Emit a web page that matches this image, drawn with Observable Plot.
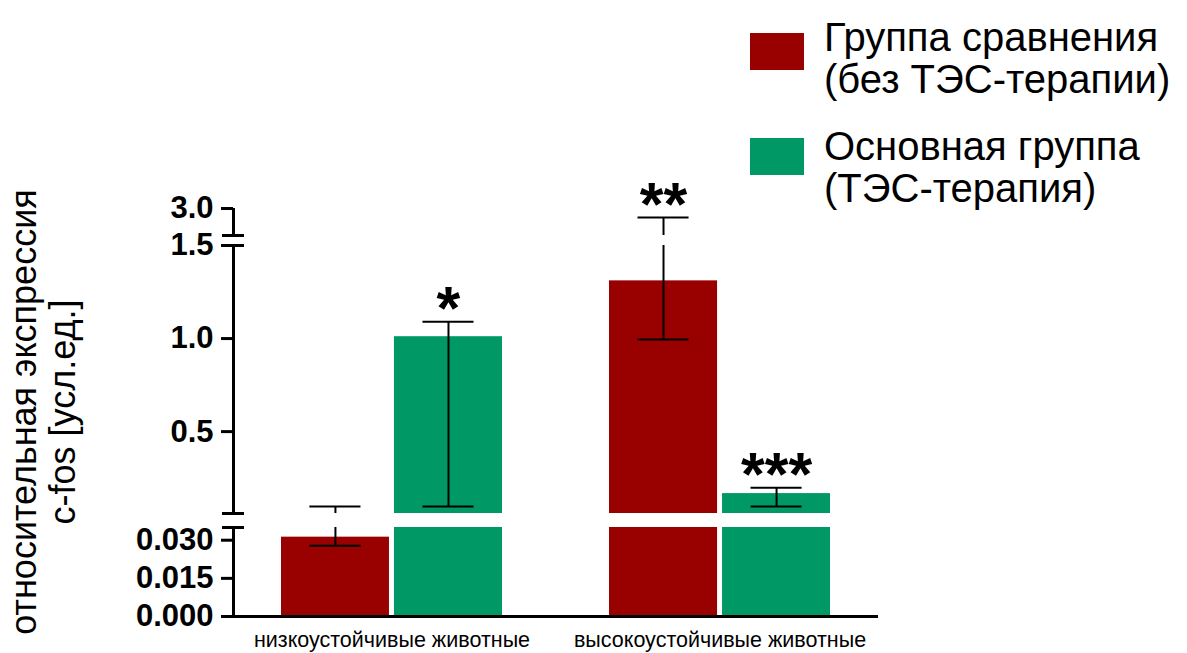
<!DOCTYPE html>
<html><head><meta charset="utf-8">
<script src="https://cdn.jsdelivr.net/npm/d3@7"></script>
<script src="https://cdn.jsdelivr.net/npm/@observablehq/plot@0.6"></script>
<style>
body{margin:0;background:#fff;font-family:"Liberation Sans",Arial,Helvetica,sans-serif;color:#000;}
#chart{position:relative;width:1187px;height:653px;overflow:hidden;background:#fff;}
#chart svg{position:absolute;left:0;top:0;}
.lg-sw{position:absolute;width:54px;height:37px;}
.lg-tx{position:absolute;font-size:40px;line-height:42px;white-space:nowrap;}
.ytitle{position:absolute;font-size:36px;line-height:39px;white-space:nowrap;text-align:center;transform:translate(-50%,-50%) rotate(-90deg);}
</style></head><body><div id="chart"></div>
<script>
// ---------- data ----------
const groups = ["низкоустойчивые животные", "высокоустойчивые животные"];
const series = ["Группа сравнения (без ТЭС-терапии)", "Основная группа (ТЭС-терапия)"];
const seriesColors = ["#990000", "#009966"];
const compareMean = [0.0312, 1.31];
const compareLow  = [0.0278, 0.995];
const compareHigh = [0.097, 2.5];
const mainMean = [1.01, 0.167];
const mainLow  = [0.097, 0.097];
const mainHigh = [1.09, 0.199];
const compareStars = ["", "**"];
const mainStars = ["*", "***"];
const legendLines = [["Группа сравнения", "(без ТЭС-терапии)"], ["Основная группа", "(ТЭС-терапия)"]];
const yTitleLines = ["относительная экспрессия", "c-fos [усл.ед.]"];
// broken y axis: segment domains, ticks and tick labels (top to bottom)
const segDomains = [[1.5, 3.0], [0.06, 1.5], [0, 0.035]];
const segTicks = [[3.0], [0.5, 1.0, 1.5], [0, 0.015, 0.030]];
const segTickLabels = [["3.0"], ["0.5", "1.0", "1.5"], ["0.000", "0.015", "0.030"]];

const rows = groups.flatMap((g, i) => [
  {group: g, series: series[0], mean: compareMean[i], lo: compareLow[i], hi: compareHigh[i], star: compareStars[i]},
  {group: g, series: series[1], mean: mainMean[i], lo: mainLow[i], hi: mainHigh[i], star: mainStars[i]}
]);

// ---------- layout ----------
const W = 1187, H = 653, ML = 233, MR = 309;
const segPix = [[208, 235], [245, 513], [527, 616]]; // top, bottom pixel of each segment
const FONT = '"Liberation Sans", Arial, Helvetica, sans-serif';
const chart = document.getElementById("chart");
const color = {domain: series, range: seriesColors};

segDomains.forEach((dom, k) => {
  const isBottom = k === segDomains.length - 1;
  const common = {
    width: W, height: H, marginLeft: ML, marginRight: MR,
    marginTop: segPix[k][0], marginBottom: H - segPix[k][1],
    style: {background: "transparent", fontFamily: FONT, color: "#000", overflow: "visible"}
  };
  const inSeg = d => d.hi >= dom[0] && d.hi <= dom[1];
  const dataMarks = [
    Plot.barY(rows, {fx: "group", x: "series", y: "mean", fill: "series", clip: true}),
    Plot.ruleX(rows, {fx: "group", x: "series", y1: "lo", y2: "hi", stroke: "#000", strokeWidth: 2, clip: true}),
    Plot.tickY(rows, {fx: "group", x: "series", y: "lo", stroke: "#000", strokeWidth: 2, inset: 28.5, clip: true}),
    Plot.tickY(rows, {fx: "group", x: "series", y: "hi", stroke: "#000", strokeWidth: 2, inset: 28.5, clip: true}),
    Plot.text(rows.filter(d => d.star && inSeg(d)), {fx: "group", x: "series", y: "hi", text: "star", dy: -12, fontSize: 61, fontWeight: "bold", fill: "#000"})
  ];
  if (isBottom) dataMarks.push(Plot.axisFx({anchor: "bottom", tickSize: 0, tickPadding: 15, fontSize: 21.5, label: null}));
  const dataPlot = Plot.plot({
    ...common,
    fx: {domain: groups, paddingInner: 0.326, paddingOuter: 0.146, round: false, axis: isBottom ? undefined : null, label: null},
    x: {domain: series, paddingInner: 0.044, paddingOuter: 0, round: false, axis: null},
    y: {domain: dom, axis: null},
    color,
    marks: dataMarks
  });

  const labelMap = new Map(segTicks[k].map((t, i) => [t, segTickLabels[k][i]]));
  const breaks = [];
  if (k > 0) breaks.push(dom[1]);
  if (!isBottom) breaks.push(dom[0]);
  const axisMarks = [
    Plot.ruleX([0], {stroke: "#000", strokeWidth: 3}),
    Plot.axisY(segTicks[k], {anchor: "left", tickSize: 12, tickPadding: 8, strokeWidth: 3, fontSize: 31, fontWeight: "bold", tickFormat: d => labelMap.get(d), label: null}),
    Plot.ruleY(breaks, {x1: 0, x2: 0, insetLeft: -11, insetRight: -11, stroke: "#000", strokeWidth: 3})
  ];
  if (isBottom) axisMarks.push(Plot.ruleY([0], {stroke: "#000", strokeWidth: 3}));
  const axisPlot = Plot.plot({
    ...common,
    x: {domain: [0, 1], axis: null},
    y: {domain: dom, axis: null},
    marks: axisMarks
  });
  chart.appendChild(dataPlot);
  chart.appendChild(axisPlot);
});

// legend
const legendTops = [[33, 16], [138, 125]];
series.forEach((s, i) => {
  const sw = document.createElement("div");
  sw.className = "lg-sw";
  sw.style.left = "750px"; sw.style.top = legendTops[i][0] + "px";
  sw.style.background = seriesColors[i];
  chart.appendChild(sw);
  const tx = document.createElement("div");
  tx.className = "lg-tx";
  tx.style.left = "824px"; tx.style.top = legendTops[i][1] + "px";
  tx.innerHTML = legendLines[i].join("<br>");
  chart.appendChild(tx);
});
// y title
const yt = document.createElement("div");
yt.className = "ytitle";
yt.style.left = "43px"; yt.style.top = "412px";
yt.innerHTML = yTitleLines.join("<br>");
chart.appendChild(yt);
</script></body></html>
